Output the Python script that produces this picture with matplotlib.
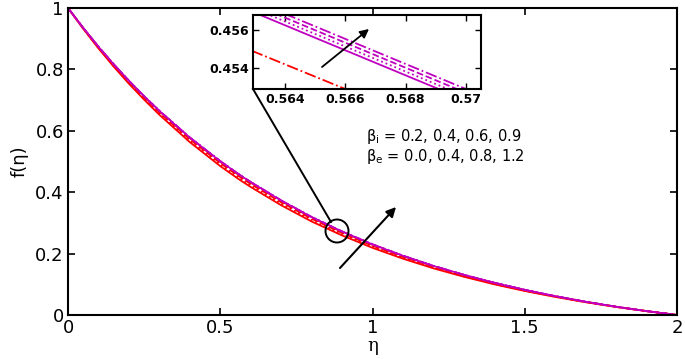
import matplotlib
matplotlib.use("Agg")
import matplotlib.pyplot as plt
from matplotlib.patches import Ellipse
from matplotlib.lines import Line2D

plt.rcParams['font.family'] = ['DejaVu Sans']

eta = [0.0, 0.05, 0.1, 0.15, 0.2, 0.25, 0.3, 0.4, 0.5, 0.56, 0.57, 0.6, 0.7, 0.8, 0.9, 1.0,
       1.1, 1.2, 1.3, 1.4, 1.5, 1.6, 1.7, 1.8, 1.9, 2.0]

# red family (beta_i)
red_1 = [1.0, 0.9323, 0.8684, 0.8091, 0.7534, 0.7014, 0.6522, 0.5631, 0.4850, 0.4429, 0.4363, 0.4170,
         0.3575, 0.3046, 0.2592, 0.2188, 0.1834, 0.1520, 0.1246, 0.0999, 0.0782, 0.0589, 0.0416,
         0.0262, 0.0125, 0.0]
red_2 = [1.0, 0.9332, 0.8702, 0.8115, 0.7564, 0.7049, 0.6562, 0.5678, 0.4900, 0.4479, 0.4413, 0.4220,
         0.3623, 0.3091, 0.2632, 0.2223, 0.1864, 0.1545, 0.1266, 0.1015, 0.0794, 0.0597, 0.0421,
         0.0265, 0.0126, 0.0]
red_3 = [1.0, 0.9341, 0.8719, 0.8139, 0.7594, 0.7084, 0.6602, 0.5724, 0.4950, 0.4529, 0.4463, 0.4270,
         0.3672, 0.3136, 0.2672, 0.2258, 0.1894, 0.1570, 0.1286, 0.1031, 0.0806, 0.0605, 0.0426,
         0.0267, 0.0127, 0.0]
red_4 = [1.0, 0.9348, 0.8733, 0.8158, 0.7618, 0.7112, 0.6634, 0.5761, 0.4990, 0.4568, 0.4503, 0.4310,
         0.3711, 0.3172, 0.2704, 0.2286, 0.1918, 0.1590, 0.1302, 0.1044, 0.0815, 0.0612, 0.0430,
         0.0269, 0.0128, 0.0]
# magenta family (beta_e)
mag_1 = [1.0, 0.9352, 0.8740, 0.8168, 0.7630, 0.7126, 0.6650, 0.5780, 0.5010, 0.4589, 0.4523, 0.4330,
         0.3730, 0.3190, 0.2720, 0.2300, 0.1930, 0.1600, 0.1310, 0.1050, 0.0820, 0.0615, 0.0432,
         0.0270, 0.0128, 0.0]
mag_2 = [1.0, 0.9352, 0.8741, 0.8169, 0.7631, 0.7127, 0.6652, 0.5782, 0.5012, 0.4591, 0.4525, 0.4332,
         0.3732, 0.3192, 0.2722, 0.2301, 0.1931, 0.1601, 0.1311, 0.1051, 0.0820, 0.0615, 0.0432,
         0.0270, 0.0128, 0.0]
mag_3 = [1.0, 0.9353, 0.8741, 0.8170, 0.7632, 0.7129, 0.6653, 0.5784, 0.5014, 0.4593, 0.4527, 0.4334,
         0.3734, 0.3194, 0.2723, 0.2303, 0.1932, 0.1602, 0.1312, 0.1051, 0.0821, 0.0616, 0.0432,
         0.0270, 0.0128, 0.0]
mag_4 = [1.0, 0.9353, 0.8742, 0.8171, 0.7634, 0.7130, 0.6655, 0.5786, 0.5016, 0.4595, 0.4529, 0.4336,
         0.3736, 0.3195, 0.2725, 0.2304, 0.1934, 0.1603, 0.1312, 0.1052, 0.0821, 0.0616, 0.0433,
         0.0270, 0.0128, 0.0]

red_series = [red_1, red_2, red_3, red_4]
mag_series = [mag_1, mag_2, mag_3, mag_4]
styles = ['-', ':', '--', '-.']

RED = '#FF0000'
MAG = '#C000C0'

main_xticks = [0, 0.5, 1, 1.5, 2]
main_xticklabels = ['0', '0.5', '1', '1.5', '2']
main_yticks = [0, 0.2, 0.4, 0.6, 0.8, 1]
main_yticklabels = ['0', '0.2', '0.4', '0.6', '0.8', '1']
ins_xticks = [0.564, 0.566, 0.568, 0.57]
ins_xticklabels = ['0.564', '0.566', '0.568', '0.57']
ins_yticks = [0.454, 0.456]
ins_yticklabels = ['0.454', '0.456']

W, H = 685, 359
fig = plt.figure(figsize=(W / 100, H / 100), dpi=100)

def fx(px):
    return px / W

def fy(py):
    return 1 - py / H

ax = fig.add_axes([fx(68), fy(315), fx(677) - fx(68), fy(8) - fy(315)])
for s, st in zip(red_series, styles):
    ax.plot(eta, s, color=RED, ls=st, lw=1.3)
for s, st in zip(mag_series, styles):
    ax.plot(eta, s, color=MAG, ls=st, lw=1.2)
ax.set_xlim(0, 2)
ax.set_ylim(0, 1)
ax.set_xticks(main_xticks)
ax.set_xticklabels(main_xticklabels)
ax.set_yticks(main_yticks)
ax.set_yticklabels(main_yticklabels)
ax.tick_params(direction='in', length=5, width=1.2, top=True, right=True, labelsize=13, pad=3)
for sp in ax.spines.values():
    sp.set_linewidth(1.5)
ax.set_xlabel('η', family=['DejaVu Serif'], fontsize=13, labelpad=0)
ax.set_ylabel('f(η)', fontsize=13, labelpad=5)

ax.text(fx(366), fy(137), r'$\mathregular{\beta_i}$ = 0.2, 0.4, 0.6, 0.9', transform=fig.transFigure,
        fontsize=10.5, va='center', ha='left')
ax.text(fx(366), fy(156), r'$\mathregular{\beta_e}$ = 0.0, 0.4, 0.8, 1.2', transform=fig.transFigure,
        fontsize=10.5, va='center', ha='left')

# main arrow
ax.annotate('', xy=(fx(396), fy(207)), xytext=(fx(340), fy(268)),
            xycoords='figure fraction', textcoords='figure fraction',
            arrowprops=dict(arrowstyle='-|>', color='k', lw=1.5, mutation_scale=14,
                            shrinkA=0, shrinkB=0))

# zoom circle and connector
fig.add_artist(Ellipse((fx(337), fy(231)), 23 / W, 23 / H, transform=fig.transFigure,
                       fill=False, ec='k', lw=1.4))
fig.add_artist(Line2D([fx(253), fx(331)], [fy(89), fy(222)], transform=fig.transFigure,
                      color='k', lw=1.4))

# inset
ins = fig.add_axes([fx(253), fy(89), fx(481) - fx(253), fy(15) - fy(89)])
for s, st in zip(red_series, styles):
    ins.plot(eta, s, color=RED, ls=st, lw=1.3)
for s, st in zip(mag_series, styles):
    ins.plot(eta, s, color=MAG, ls=st, lw=1.3)
ins.set_xlim(0.56294, 0.5705)
ins.set_ylim(0.4529, 0.4568)
ins.set_xticks(ins_xticks)
ins.set_xticklabels(ins_xticklabels, fontweight='bold')
ins.set_yticks(ins_yticks)
ins.set_yticklabels(ins_yticklabels, fontweight='bold')
ins.tick_params(direction='in', length=4, width=1.0, top=True, right=True, labelsize=9, pad=3)
for sp in ins.spines.values():
    sp.set_linewidth(1.5)
ins.annotate('', xy=(fx(369), fy(29)), xytext=(fx(322), fy(67)),
             xycoords='figure fraction', textcoords='figure fraction',
             arrowprops=dict(arrowstyle='-|>', color='k', lw=1.3, mutation_scale=13,
                             shrinkA=0, shrinkB=0))

fig.savefig('out.png', dpi=100)
